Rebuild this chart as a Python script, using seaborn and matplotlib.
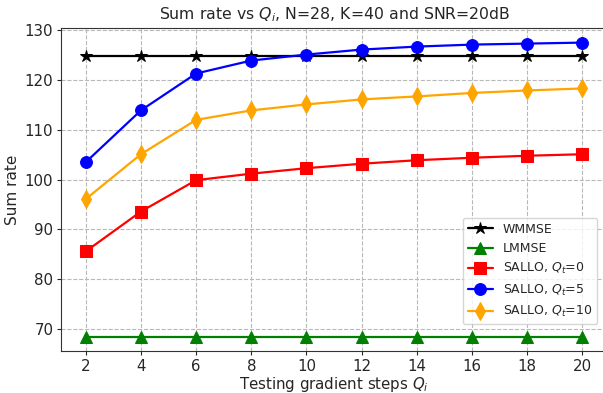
import matplotlib
matplotlib.use("Agg")
import matplotlib.pyplot as plt
import seaborn as sns
import pandas as pd

steps = [2, 4, 6, 8, 10, 12, 14, 16, 18, 20]
wmmse = [124.8] * 10
lmmse = [68.5] * 10
sallo_q0 = [85.6, 93.6, 99.9, 101.2, 102.3, 103.2, 103.9, 104.4, 104.8, 105.1]
sallo_q5 = [103.5, 113.9, 121.3, 123.9, 125.1, 126.1, 126.7, 127.1, 127.3, 127.5]
sallo_q10 = [96.1, 105.1, 112.0, 113.9, 115.1, 116.1, 116.7, 117.4, 117.9, 118.3]

labels = ["WMMSE", "LMMSE", r"SALLO, $Q_t$=0", r"SALLO, $Q_t$=5", r"SALLO, $Q_t$=10"]
series = [wmmse, lmmse, sallo_q0, sallo_q5, sallo_q10]
colors = ["black", "green", "red", "blue", "orange"]
markers = ["*", "^", "s", "o", "d"]
msizes = [9, 8.5, 8.5, 8.5, 9]

sns.set_style("ticks")
plt.rcParams['font.family'] = ['DejaVu Sans']

fig, ax = plt.subplots(figsize=(6.03, 3.93), dpi=100)
fig.subplots_adjust(left=0.101, right=1.007, top=0.929, bottom=0.106)

for lab, vals, c, m, ms in zip(labels, series, colors, markers, msizes):
    df = pd.DataFrame({"x": steps, "y": vals})
    sns.lineplot(data=df, x="x", y="y", ax=ax, color=c, marker=m,
                 markersize=ms, linewidth=1.6, label=lab,
                 markeredgecolor=c)

ax.set_xticks(steps)
ax.set_xlim(1.1, 20.9)
ax.grid(True, linestyle="--", color="#b8b8b8", linewidth=0.8)
ax.tick_params(labelsize=10.8, length=3, pad=2.5)
ax.set_xlabel(r"Testing gradient steps $Q_i$", fontsize=10.8, labelpad=0.5)
ax.set_ylabel("Sum rate", fontsize=11, labelpad=3)
ax.set_title(r"Sum rate vs $Q_i$, N=28, K=40 and SNR=20dB", fontsize=11.3)
ax.legend(loc="lower right", fontsize=9, bbox_to_anchor=(0.993, 0.065))
for s in ax.spines.values():
    s.set_color("#333333")

fig.savefig("out.png", dpi=100)
